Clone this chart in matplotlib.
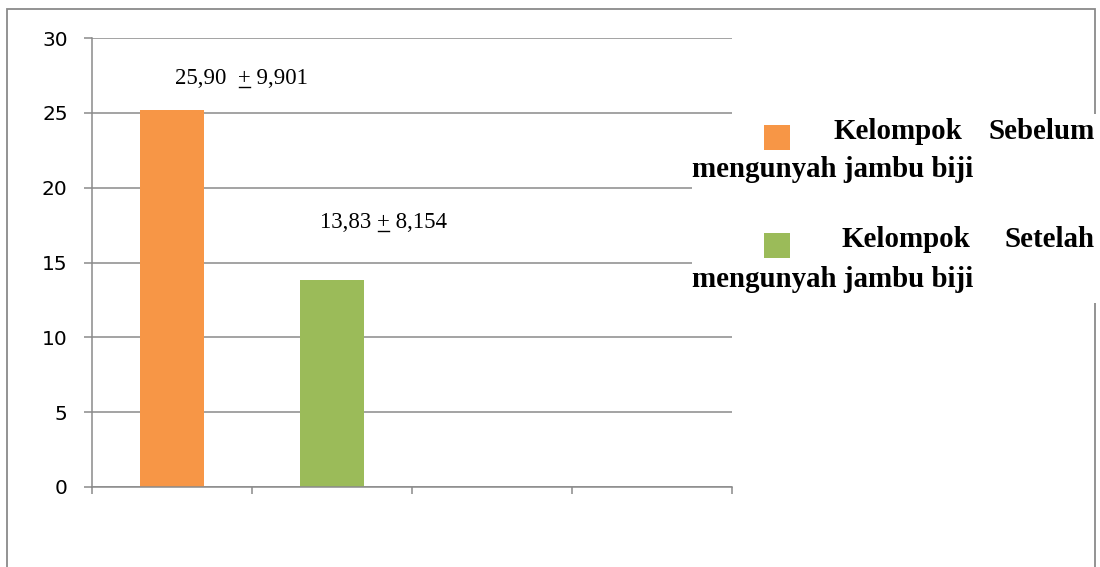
import matplotlib
matplotlib.use('Agg')
import matplotlib.pyplot as plt
from matplotlib.patches import Rectangle
from matplotlib.lines import Line2D
from matplotlib.transforms import IdentityTransform

# Data
n_slots = 4
groups = ['Kelompok Sebelum mengunyah jambu biji', 'Kelompok Setelah mengunyah jambu biji']
means = [25.2, 13.83]
mean_text = ['25,90', '13,83']
sd_text = ['9,901', '8,154']
colors = ['#F79646', '#9BBB59']
yticks = [0, 5, 10, 15, 20, 25, 30]

W, H = 1100, 567
fig = plt.figure(figsize=(W / 100, H / 100), dpi=100)
ax = fig.add_axes([92 / W, 1 - 487 / H, 640 / W, 449 / H])

grey = '#8a8a8a'
pos = list(range(1, len(means) + 1))
ax.bar(pos, means, width=0.4, color=colors, zorder=2)

ax.set_xlim(0.5, n_slots + 0.5)
ax.set_ylim(0, 30)
ax.set_yticks(yticks)
ax.set_yticklabels([str(t) for t in yticks], fontsize=14.5, family='DejaVu Sans')
ax.set_xticks([i + 0.5 for i in range(n_slots + 1)])
ax.set_xticklabels([])
ax.tick_params(axis='y', length=6, width=1.1, color=grey, pad=11.5)
ax.tick_params(axis='x', length=5, width=1.1, color=grey)
ax.yaxis.grid(True, color=grey, lw=1.1, zorder=0)
ax.set_axisbelow(True)
for s in ['top', 'right']:
    ax.spines[s].set_visible(False)
for s in ['left', 'bottom']:
    ax.spines[s].set_color(grey)
    ax.spines[s].set_linewidth(1.1)

# value labels (mean +/- sd), the "+" is underlined
lab_font = dict(fontsize=16.5, family='Liberation Serif')
lab_pos = [(pos[0] + 0.02, 26.93, '  '), (pos[1] - 0.075, 17.3, ' ')]
fig.canvas.draw()
renderer = fig.canvas.get_renderer()
for (x, y, gap), m, sd in zip(lab_pos, mean_text, sd_text):
    ax.text(x, y, m + gap + '+ ' + sd, ha='left', va='baseline', **lab_font)
    pre = ax.text(x, y, m + gap, ha='left', va='baseline', **lab_font)
    plus = ax.text(x, y, '+', ha='left', va='baseline', **lab_font)
    w_pre = pre.get_window_extent(renderer).width
    w_plus = plus.get_window_extent(renderer).width
    pre.remove()
    plus.remove()
    x0, y0 = ax.transData.transform((x, y))
    yl = y0 - 3
    fig.add_artist(Line2D([x0 + w_pre + 0.5, x0 + w_pre + w_plus - 0.5], [yl, yl],
                          transform=IdentityTransform(), color='black', lw=1.0))

# outer chart frame
fig.patches.append(Rectangle((7 / W, -0.1), 1088 / W, 1.1 - 9 / H, transform=fig.transFigure,
                             fill=False, ec=grey, lw=1.3, zorder=0.5))

# legend box (covers part of frame and gridlines, like the original)
fig.patches.append(Rectangle((692 / W, 1 - 303 / H), 420 / W, 189 / H, transform=fig.transFigure,
                             fc='white', ec='none', zorder=1))

lfont = dict(family='Liberation Serif', fontsize=20.8, fontweight='bold', zorder=3)
rows = [(139, 177, 833), (247, 287, 842)]
for (name, col, (y1, y2, xk)) in zip(groups, colors, rows):
    words = name.split()
    sq_top = y1 - 14
    fig.patches.append(Rectangle((764 / W, 1 - (sq_top + 25) / H), 26 / W, 25 / H,
                                 transform=fig.transFigure, fc=col, ec='none', zorder=3))
    fig.text(1095 / W, 1 - y1 / H, words[1], ha='right', va='baseline', **lfont)
    fig.text(xk / W, 1 - y1 / H, words[0], ha='left', va='baseline', **lfont)
    fig.text(692 / W, 1 - y2 / H, ' '.join(words[2:]), ha='left', va='baseline', **lfont)

fig.savefig('out.png', dpi=100)
